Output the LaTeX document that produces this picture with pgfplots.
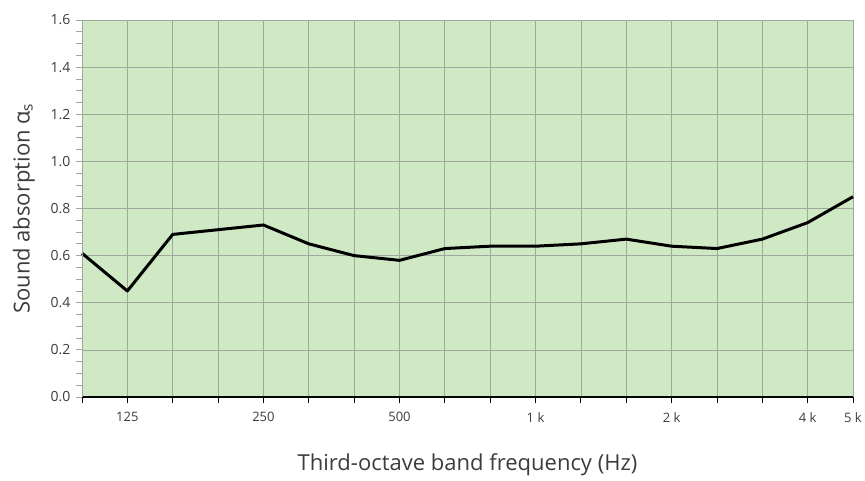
\documentclass[border=0pt]{standalone}
\usepackage{pgfplots}
\pgfplotsset{compat=1.18}
\usepackage{fontspec}
\setmainfont{Open Sans}
\definecolor{bgreen}{RGB}{207,233,196}
\definecolor{gridgray}{RGB}{160,168,158}
\definecolor{txt}{RGB}{60,60,60}
\begin{document}
\begin{tikzpicture}[x=1pt,y=1pt]
\useasboundingbox (-82,-84) rectangle (783,397);
\begin{axis}[
  at={(0,0)}, anchor=south west,
  scale only axis, width=771pt, height=377pt,
  xmin=0, xmax=17, ymin=0, ymax=1.6,
  axis background/.style={fill=bgreen},
  axis line style={draw=none},
  xtick={0,...,17},
  xticklabels={,125,,,250,,,500,,,1 k,,,2 k,,,4 k,5 k},
  ytick={0,0.2,...,1.6},
  minor y tick num=3,
  yticklabel style={/pgf/number format/fixed,/pgf/number format/fixed zerofill,/pgf/number format/precision=1},
  /pgf/number format/assume math mode=true,
  grid=major,
  major grid style={gridgray, line width=0.7pt},
  tick style={gridgray, line width=0.8pt},
  major tick length=6pt, minor tick length=6pt,
  tick align=outside,
  xtick pos=bottom, ytick pos=left,
  x tick style={black},
  ticklabel style={text=txt},
  xticklabel style={font=\fontsize{13}{15}\selectfont, yshift=-6pt},
  yticklabel style={font=\fontsize{14}{16}\selectfont, xshift=-2pt},
  xlabel={Third-octave band frequency (Hz)},
  ylabel={Sound absorption α\textsubscript{s}},
  label style={font=\fontsize{22}{26}\selectfont, text=txt},
  xlabel style={yshift=-24pt},
  ylabel style={yshift=9pt},
  clip=false,
]
\addplot[black, line width=3pt, line join=round] coordinates {
(0,0.61) (1,0.45) (2,0.69) (3,0.71) (4,0.73) (5,0.65) (6,0.60) (7,0.58)
(8,0.63) (9,0.64) (10,0.64) (11,0.65) (12,0.67) (13,0.64) (14,0.63)
(15,0.67) (16,0.74) (17,0.85)
};
\draw[black, line width=1.2pt] (rel axis cs:0,0) -- (rel axis cs:1,0);
\draw[gridgray, line width=0.7pt] (rel axis cs:0,0) -- (rel axis cs:0,1) -- (rel axis cs:1,1);
\end{axis}
\end{tikzpicture}
\end{document}
